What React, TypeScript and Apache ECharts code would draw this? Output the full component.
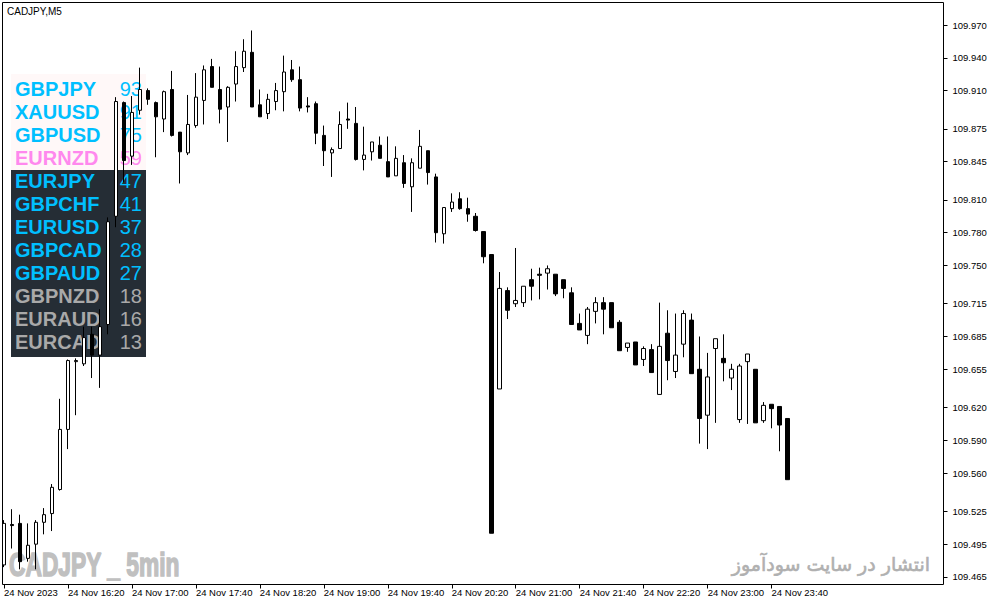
import React, { useEffect, useRef } from 'react';
import * as echarts from 'echarts';

// 5-minute bars, 24 Nov 2023
const barTimes = [
  '15:40', '15:45', '15:50', '15:55',
  '16:00', '16:05', '16:10', '16:15', '16:20', '16:25', '16:30', '16:35', '16:40', '16:45', '16:50', '16:55',
  '17:00', '17:05', '17:10', '17:15', '17:20', '17:25', '17:30', '17:35', '17:40', '17:45', '17:50', '17:55',
  '18:00', '18:05', '18:10', '18:15', '18:20', '18:25', '18:30', '18:35', '18:40', '18:45', '18:50', '18:55',
  '19:00', '19:05', '19:10', '19:15', '19:20', '19:25', '19:30', '19:35', '19:40', '19:45', '19:50', '19:55',
  '20:00', '20:05', '20:10', '20:15', '20:20', '20:25', '20:30', '20:35', '20:40', '20:45', '20:50', '20:55',
  '21:00', '21:05', '21:10', '21:15', '21:20', '21:25', '21:30', '21:35', '21:40', '21:45', '21:50', '21:55',
  '22:00', '22:05', '22:10', '22:15', '22:20', '22:25', '22:30', '22:35', '22:40', '22:45', '22:50', '22:55',
  '23:00', '23:05', '23:10', '23:15', '23:20', '23:25', '23:30', '23:35', '23:40', '23:45', '23:50',
];
// empty slots to the right of the last bar (chart shift)
const emptyTimes = [
  '23:55', '00:00', '00:05', '00:10', '00:15', '00:20', '00:25', '00:30', '00:35', '00:40',
  '00:45', '00:50', '00:55', '01:00', '01:05', '01:10', '01:15', '01:20', '01:25',
];
const xTickLabels = [
  '24 Nov 2023', '24 Nov 16:20', '24 Nov 17:00', '24 Nov 17:40', '24 Nov 18:20', '24 Nov 19:00', '24 Nov 19:40',
  '24 Nov 20:20', '24 Nov 21:00', '24 Nov 21:40', '24 Nov 22:20', '24 Nov 23:00', '24 Nov 23:40',
];
const yTicks = [
  109.970, 109.940, 109.910, 109.875, 109.845, 109.810, 109.780, 109.750, 109.715,
  109.685, 109.655, 109.620, 109.590, 109.560, 109.525, 109.495, 109.465,
];

const open = [
  109.476, 109.513, 109.514, 109.482, 109.495, 109.515, 109.523, 109.545, 109.600, 109.662,
  109.660, 109.687, 109.668, 109.696, 109.795, 109.899, 109.850, 109.892, 109.910, 109.899,
  109.884, 109.911, 109.872, 109.853, 109.878, 109.901, 109.932, 109.911, 109.895, 109.916,
  109.931, 109.945, 109.897, 109.889, 109.900, 109.909, 109.929, 109.920, 109.896, 109.898,
  109.869, 109.853, 109.857, 109.884, 109.880, 109.847, 109.854, 109.860, 109.845, 109.832,
  109.844, 109.822, 109.839, 109.855, 109.831, 109.779, 109.802, 109.811, 109.802, 109.795,
  109.781, 109.760, 109.637, 109.727, 109.715, 109.716, 109.737, 109.742, 109.743, 109.742,
  109.737, 109.725, 109.697, 109.686, 109.708, 109.716, 109.716, 109.698, 109.675, 109.680,
  109.664, 109.673, 109.632, 109.688, 109.653, 109.678, 109.700, 109.655, 109.613, 109.674,
  109.665, 109.647, 109.609, 109.662, 109.655, 109.608, 109.623, 109.621, 109.610,
];
const high = [
  109.517, 109.527, 109.522, 109.514, 109.517, 109.528, 109.550, 109.628, 109.664, 109.665,
  109.694, 109.694, 109.710, 109.794, 109.904, 109.900, 109.905, 109.931, 109.912, 109.900,
  109.910, 109.928, 109.872, 109.906, 109.926, 109.933, 109.939, 109.932, 109.914, 109.946,
  109.957, 109.965, 109.911, 109.907, 109.917, 109.942, 109.938, 109.932, 109.904, 109.900,
  109.878, 109.858, 109.891, 109.899, 109.895, 109.877, 109.863, 109.868, 109.868, 109.859,
  109.851, 109.848, 109.874, 109.855, 109.834, 109.803, 109.816, 109.817, 109.812, 109.798,
  109.781, 109.760, 109.744, 109.730, 109.766, 109.731, 109.747, 109.748, 109.750, 109.742,
  109.737, 109.730, 109.706, 109.712, 109.721, 109.721, 109.716, 109.700, 109.679, 109.680,
  109.676, 109.678, 109.716, 109.709, 109.706, 109.709, 109.706, 109.685, 109.670, 109.683,
  109.687, 109.660, 109.660, 109.669, 109.655, 109.625, 109.623, 109.621, 109.610,
];
const low = [
  109.474, 109.491, 109.472, 109.479, 109.472, 109.504, 109.507, 109.544, 109.582, 109.613,
  109.658, 109.647, 109.638, 109.687, 109.785, 109.826, 109.842, 109.888, 109.897, 109.849,
  109.872, 109.868, 109.825, 109.851, 109.876, 109.879, 109.913, 109.880, 109.863, 109.900,
  109.927, 109.895, 109.886, 109.884, 109.892, 109.891, 109.918, 109.891, 109.890, 109.861,
  109.841, 109.831, 109.857, 109.875, 109.846, 109.837, 109.846, 109.848, 109.831, 109.832,
  109.821, 109.799, 109.839, 109.824, 109.771, 109.770, 109.799, 109.801, 109.790, 109.781,
  109.752, 109.505, 109.637, 109.701, 109.712, 109.712, 109.718, 109.719, 109.728, 109.722,
  109.720, 109.696, 109.691, 109.678, 109.697, 109.687, 109.693, 109.672, 109.671, 109.659,
  109.658, 109.652, 109.632, 109.645, 109.647, 109.666, 109.651, 109.587, 109.582, 109.606,
  109.644, 109.636, 109.606, 109.605, 109.606, 109.606, 109.601, 109.580, 109.554,
];
const close = [
  109.514, 109.512, 109.479, 109.494, 109.515, 109.522, 109.547, 109.600, 109.663, 109.663,
  109.684, 109.668, 109.694, 109.790, 109.900, 109.846, 109.890, 109.911, 109.902, 109.886,
  109.909, 109.869, 109.854, 109.879, 109.904, 109.929, 109.913, 109.893, 109.913, 109.932,
  109.946, 109.895, 109.886, 109.902, 109.910, 109.927, 109.920, 109.894, 109.895, 109.871,
  109.855, 109.856, 109.879, 109.883, 109.847, 109.851, 109.863, 109.848, 109.831, 109.848,
  109.825, 109.844, 109.859, 109.835, 109.780, 109.803, 109.808, 109.802, 109.797, 109.782,
  109.758, 109.505, 109.729, 109.709, 109.718, 109.731, 109.731, 109.741, 109.747, 109.724,
  109.729, 109.696, 109.691, 109.710, 109.716, 109.710, 109.693, 109.672, 109.679, 109.659,
  109.674, 109.652, 109.676, 109.663, 109.668, 109.706, 109.651, 109.610, 109.648, 109.683,
  109.661, 109.655, 109.658, 109.669, 109.606, 109.622, 109.619, 109.604, 109.554,
];

// strength table overlay
const pairNames = ['GBPJPY', 'XAUUSD', 'GBPUSD', 'EURNZD', 'EURJPY', 'GBPCHF', 'EURUSD', 'GBPCAD', 'GBPAUD', 'GBPNZD', 'EURAUD', 'EURCAD'];
const pairValues = [93, 91, 75, 59, 47, 41, 37, 28, 27, 18, 16, 13];
const pairColors = [
  '#00BFFF', '#00BFFF', '#00BFFF', '#FF88EE', '#00BFFF', '#00BFFF',
  '#00BFFF', '#00BFFF', '#00BFFF', '#A9A9A9', '#A9A9A9', '#A9A9A9',
];

const Y_MIN = 109.4581;
const Y_MAX = 109.9906;

export default function App() {
  const ref = useRef<HTMLDivElement>(null);

  useEffect(() => {
    if (!ref.current) return;
    const chart = echarts.init(ref.current, null, { renderer: 'svg' });

    const categories = barTimes.concat(emptyTimes);
    const data = open.map((o, i) => [o, close[i], low[i], high[i]]);

    const graphic: any[] = [];
    // panel backgrounds
    graphic.push({ type: 'rect', z: 0, shape: { x: 11, y: 74, width: 135, height: 96 }, style: { fill: '#FFF8F8' }, silent: true });
    graphic.push({ type: 'rect', z: 0, shape: { x: 11, y: 170, width: 135, height: 187 }, style: { fill: '#252D35' }, silent: true });
    pairNames.forEach((name, i) => {
      const yc = 89 + 23 * i;
      graphic.push({
        type: 'text', z: 1, x: 15, y: yc, silent: true,
        style: { text: name, fill: pairColors[i], font: 'bold 20px "Liberation Sans", Arial, sans-serif', textAlign: 'left', textVerticalAlign: 'middle' },
      });
      graphic.push({
        type: 'text', z: 1, x: 142, y: yc, silent: true,
        style: { text: String(pairValues[i]), fill: pairColors[i], font: '20px "Liberation Sans", Arial, sans-serif', textAlign: 'right', textVerticalAlign: 'middle' },
      });
    });
    // watermarks
    graphic.push({
      type: 'text', z: 1, x: 9, y: 564, scaleX: 0.67, silent: true,
      style: {
        text: 'CADJPY _ 5min', fill: '#C0C0C0', stroke: '#C0C0C0', lineWidth: 1.6,
        font: 'bold 34px "Liberation Sans", Arial, sans-serif', textAlign: 'left', textVerticalAlign: 'middle',
      },
    });
    graphic.push({
      type: 'text', z: 1, x: 930, y: 564, silent: true,
      style: {
        text: 'انتشار در سایت سودآموز', fill: '#B0B0B0', stroke: '#B0B0B0', lineWidth: 0.6,
        font: '19px "DejaVu Sans", sans-serif', textAlign: 'right', textVerticalAlign: 'middle',
      },
    });
    // title
    graphic.push({
      type: 'text', z: 20, x: 7, y: 11, silent: true,
      style: { text: 'CADJPY,M5', fill: '#000', font: '10px "Liberation Sans", Arial, sans-serif', textAlign: 'left', textVerticalAlign: 'middle' },
    });
    // frame
    graphic.push({
      type: 'rect', z: 20, silent: true,
      shape: { x: 2.5, y: 2.5, width: 941, height: 582 },
      style: { fill: 'none', stroke: '#000', lineWidth: 1 },
    });

    chart.setOption({
      animation: false,
      backgroundColor: '#ffffff',
      grid: { left: -0.5, top: 2.5, width: 944, height: 582 },
      xAxis: {
        type: 'category',
        data: categories,
        boundaryGap: true,
        axisLine: { show: false },
        axisTick: {
          show: true,
          alignWithLabel: true,
          length: 4,
          interval: (idx: number) => idx % 8 === 0 && idx / 8 < xTickLabels.length,
          lineStyle: { color: '#000', width: 1 },
        },
        axisLabel: {
          interval: (idx: number) => idx % 8 === 0 && idx / 8 < xTickLabels.length,
          formatter: (_v: string, idx: number) => (idx % 8 === 0 && idx / 8 < xTickLabels.length ? xTickLabels[idx / 8] : ''),
          align: 'left',
          margin: 3,
          color: '#000',
          fontSize: 9.5,
          fontFamily: '"Liberation Sans", Arial, sans-serif',
        },
        splitLine: { show: false },
      },
      yAxis: {
        type: 'value',
        position: 'right',
        min: Y_MIN,
        max: Y_MAX,
        axisLine: { show: false },
        axisTick: { show: true, length: 4, customValues: yTicks, lineStyle: { color: '#000', width: 1 } },
        axisLabel: {
          customValues: yTicks,
          formatter: (v: number) => v.toFixed(3),
          margin: 9,
          color: '#000',
          fontSize: 9.5,
          fontFamily: '"Liberation Sans", Arial, sans-serif',
        },
        splitLine: { show: false },
      },
      series: [
        {
          type: 'candlestick',
          z: 5,
          data,
          barWidth: 4,
          silent: true,
          itemStyle: {
            color: '#ffffff',
            color0: '#000000',
            borderColor: '#000000',
            borderColor0: '#000000',
            borderColorDoji: '#000000',
            borderWidth: 1,
          },
        },
      ],
      graphic,
    });

    return () => chart.dispose();
  }, []);

  return <div ref={ref} style={{ position: 'fixed', left: 0, top: 0, width: 991, height: 605 }} />;
}
